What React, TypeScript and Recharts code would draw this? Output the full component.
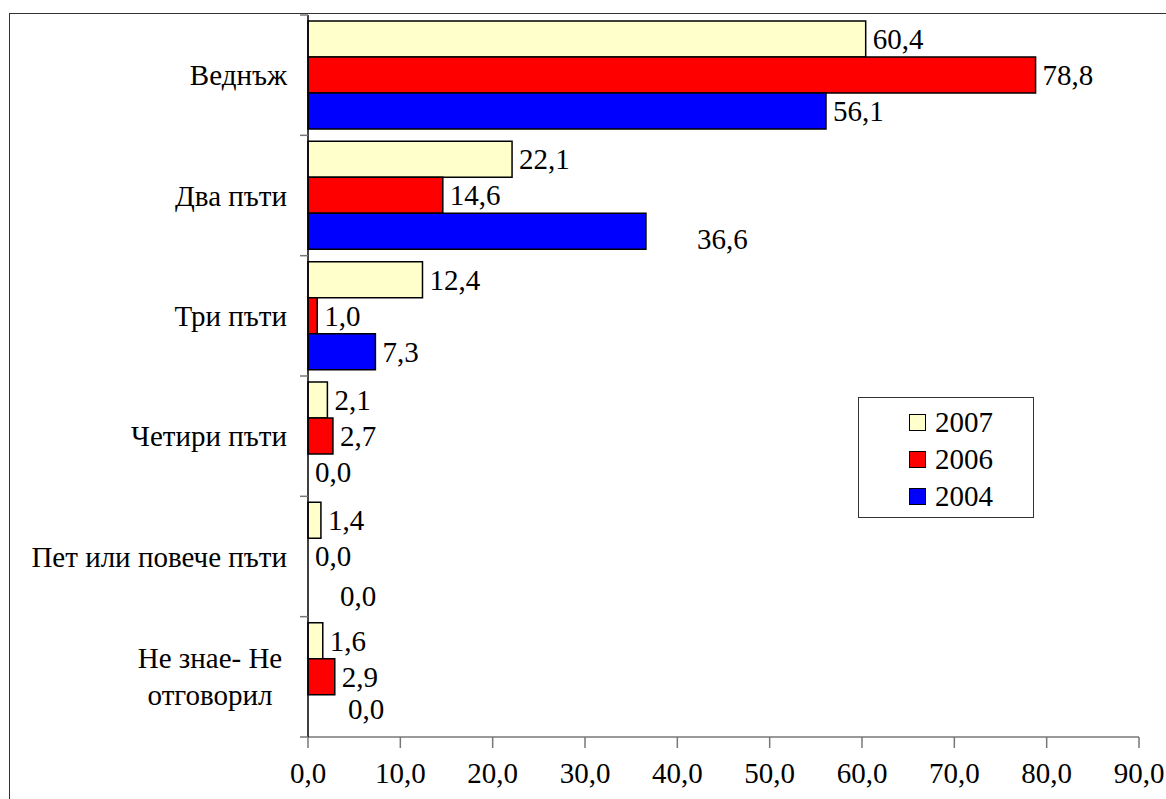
import { Bar, BarChart, LabelList, Legend, Rectangle, XAxis, YAxis } from 'recharts';

const categories = ['Веднъж', 'Два пъти', 'Три пъти', 'Четири пъти', 'Пет или повече пъти', 'Не знае- Не\nотговорил'];
const y2007 = [60.4, 22.1, 12.4, 2.1, 1.4, 1.6];
const y2006 = [78.8, 14.6, 1.0, 2.7, 0.0, 2.9];
const y2004 = [56.1, 36.6, 7.3, 0.0, 0.0, 0.0];
const xTicks = [0, 10, 20, 30, 40, 50, 60, 70, 80, 90];

const SERIES = [
  { key: 'y2007', name: '2007', color: '#FFFFCC' },
  { key: 'y2006', name: '2006', color: '#FF0000' },
  { key: 'y2004', name: '2004', color: '#0000FF' },
];

const data = categories.map((name, i) => ({
  name,
  y2007: y2007[i],
  y2006: y2006[i],
  y2004: y2004[i],
}));

const W = 1166;
const H = 799;
const TOP = 15;
const LEFT = 308;
const RIGHT = 1139;
const BOTTOM = 737;
const BAND = (BOTTOM - TOP) / categories.length;
const FONT = "'Liberation Serif', 'Times New Roman', Times, 'DejaVu Serif', serif";
const FS = 29;

// hand-moved labels in the original (series:category index -> dx, dy)
const NUDGE: Record<string, [number, number]> = {
  'y2004:1': [44, 8],
  'y2004:4': [25, 4],
  'y2004:5': [33, -4],
};

const fmt = (v: number) => v.toFixed(1).replace('.', ',');

function CategoryTick(props: any) {
  const { y, payload, index } = props;
  const lines = String(payload.value).split('\n');
  const top = y - BAND / 2;
  return (
    <g>
      <line x1={LEFT - 8} x2={LEFT} y1={top} y2={top} stroke="#777" strokeWidth={1.5} />
      {index === categories.length - 1 && (
        <line x1={LEFT - 8} x2={LEFT} y1={top + BAND} y2={top + BAND} stroke="#777" strokeWidth={1.5} />
      )}
      {lines.length === 1 ? (
        <text x={287} y={y} textAnchor="end" dominantBaseline="central" style={{ fontFamily: FONT, fontSize: FS }} fill="#000">
          {lines[0]}
        </text>
      ) : (
        lines.map((l, i) => (
          <text
            key={i}
            x={210}
            y={y + (i - (lines.length - 1) / 2) * 37}
            textAnchor="middle"
            dominantBaseline="central"
            style={{ fontFamily: FONT, fontSize: FS }}
            fill="#000"
          >
            {l}
          </text>
        ))
      )}
    </g>
  );
}

const makeLabel = (key: string) => (props: any) => {
  const { x, y, height, value, index } = props;
  const w = Number(value) > 0 ? props.width : 0;
  const [dx, dy] = NUDGE[`${key}:${index}`] ?? [0, 0];
  return (
    <text
      x={x + w + 7 + dx}
      y={y + height / 2 + dy}
      dominantBaseline="central"
      style={{ fontFamily: FONT, fontSize: FS }}
      fill="#000"
    >
      {fmt(Number(value))}
    </text>
  );
};

// zero values keep a hairline rect (for their label) but draw nothing
const BarShape = (props: any) => (Number(props.value) > 0 ? <Rectangle {...props} /> : <g />);

function LegendBox() {
  return (
    <div
      style={{
        width: 176,
        height: 121,
        boxSizing: 'border-box',
        border: '1.5px solid #333',
        background: '#fff',
        paddingTop: 6,
        fontFamily: FONT,
        fontSize: FS,
      }}
    >
      {SERIES.map((s) => (
        <div key={s.key} style={{ display: 'flex', alignItems: 'center', height: 37, paddingLeft: 50 }}>
          <span
            style={{
              display: 'inline-block',
              width: 15,
              height: 15,
              background: s.color,
              border: '1.5px solid #000',
              marginRight: 9,
            }}
          />
          <span>{s.name}</span>
        </div>
      ))}
    </div>
  );
}

export default function App() {
  return (
    <div style={{ position: 'absolute', left: 0, top: 0, width: W, height: H, background: '#fff', overflow: 'hidden' }}>
      <div
        style={{
          position: 'absolute',
          left: 9,
          top: 13,
          width: W - 9,
          height: H - 13,
          borderTop: '1.5px solid #333',
          borderLeft: '1.5px solid #333',
        }}
      />
      <BarChart
        width={W}
        height={H}
        data={data}
        layout="vertical"
        margin={{ top: TOP, right: W - RIGHT, left: 8, bottom: 0 }}
        barCategoryGap={6}
        barGap={0}
      >
        <XAxis
          type="number"
          domain={[0, 90]}
          ticks={xTicks}
          tickFormatter={fmt}
          height={H - BOTTOM}
          stroke="#777"
          strokeWidth={1.5}
          tickSize={11}
          tickMargin={14}
          tick={{ fill: '#000', style: { fontFamily: FONT, fontSize: FS } }}
          interval={0}
        />
        <YAxis
          type="category"
          dataKey="name"
          width={LEFT - 8}
          axisLine={{ stroke: '#000', strokeWidth: 1.5 }}
          tickLine={false}
          tick={<CategoryTick />}
          interval={0}
        />
        <Legend
          layout="vertical"
          align="center"
          verticalAlign="middle"
          content={() => <LegendBox />}
          wrapperStyle={{ position: 'absolute', left: 858, top: 397, width: 176, height: 121 }}
        />
        {SERIES.map((s) => (
          <Bar
            key={s.key}
            dataKey={s.key}
            name={s.name}
            fill={s.color}
            stroke="#000"
            strokeWidth={1.5}
            minPointSize={0.5}
            shape={<BarShape />}
            isAnimationActive={false}
          >
            <LabelList dataKey={s.key} content={makeLabel(s.key)} />
          </Bar>
        ))}
      </BarChart>
    </div>
  );
}
